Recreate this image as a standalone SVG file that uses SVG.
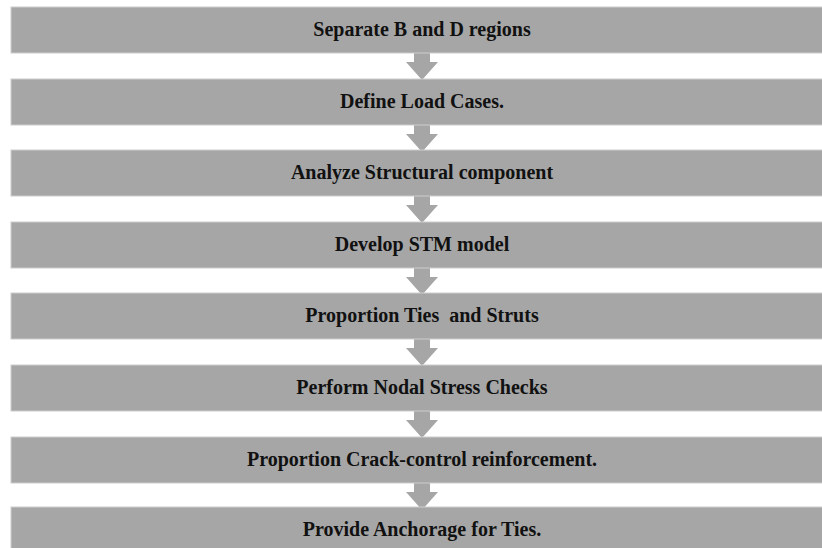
<svg xmlns="http://www.w3.org/2000/svg" xmlns:xlink="http://www.w3.org/1999/xlink" width="822" height="548" viewBox="0 0 822 548">
<style>
.bar{fill:#a6a6a6;stroke:#cdcdcd;stroke-width:1}
.lbl{font-family:"Liberation Serif","Times New Roman",serif;font-weight:bold;font-size:20px;fill:#111;text-anchor:middle;white-space:pre}
.arr{fill:#a6a6a6}
</style>
<defs>
<path id="dn" d="M-8,0 H8 V9 H16 L0,27 L-16,9 H-8 Z"/>
</defs>
<rect x="0" y="0" width="822" height="548" fill="#fff"/>
<g id="connectors" class="arr">
<use xlink:href="#dn" x="422" y="53"/>
<use xlink:href="#dn" x="422" y="125"/>
<use xlink:href="#dn" x="422" y="196"/>
<use xlink:href="#dn" x="422" y="268"/>
<use xlink:href="#dn" x="422" y="339"/>
<use xlink:href="#dn" x="422" y="411"/>
<use xlink:href="#dn" x="422" y="483"/>
</g>
<g id="n1"><rect class="bar" x="11" y="7" width="820" height="46"/><text class="lbl" x="422" y="36">Separate B and D regions</text></g>
<g id="n2"><rect class="bar" x="11" y="79" width="820" height="46"/><text class="lbl" x="422" y="108">Define Load Cases.</text></g>
<g id="n3"><rect class="bar" x="11" y="150" width="820" height="46"/><text class="lbl" x="422" y="179">Analyze Structural component</text></g>
<g id="n4"><rect class="bar" x="11" y="222" width="820" height="46"/><text class="lbl" x="422" y="251">Develop STM model</text></g>
<g id="n5"><rect class="bar" x="11" y="293" width="820" height="46"/><text class="lbl" x="422" y="322">Proportion Ties  and Struts</text></g>
<g id="n6"><rect class="bar" x="11" y="365" width="820" height="46"/><text class="lbl" x="422" y="394">Perform Nodal Stress Checks</text></g>
<g id="n7"><rect class="bar" x="11" y="437" width="820" height="46"/><text class="lbl" x="422" y="466">Proportion Crack-control reinforcement.</text></g>
<g id="n8"><rect class="bar" x="11" y="507" width="820" height="50"/><text class="lbl" x="422" y="536">Provide Anchorage for Ties.</text></g>
</svg>
